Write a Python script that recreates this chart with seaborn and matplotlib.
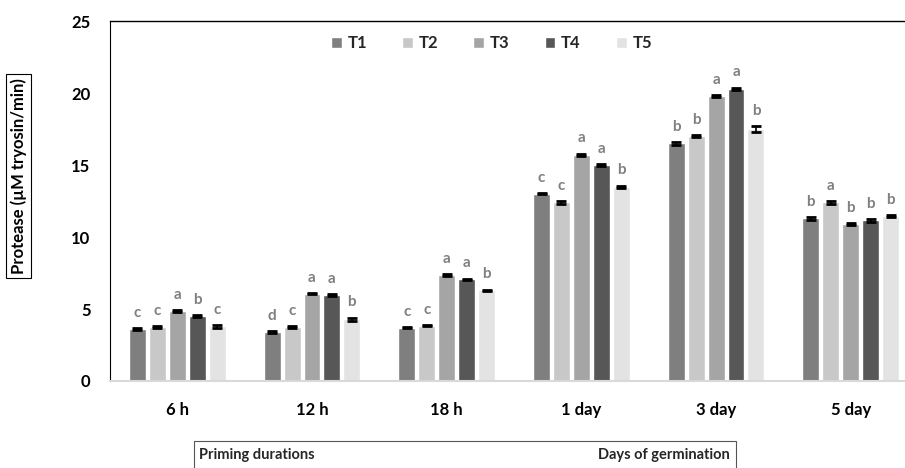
# Protease activity by priming duration / days of germination
import pandas as pd
import matplotlib
matplotlib.use('Agg')
import matplotlib.pyplot as plt
from matplotlib.patches import Rectangle
import seaborn as sns

# Data
periods = ['6 h', '12 h', '18 h', '1 day', '3 day', '5 day']
treatments = ['T1', 'T2', 'T3', 'T4', 'T5']

t1 = [3.6, 3.4, 3.7, 13.0, 16.5, 11.3]
t2 = [3.75, 3.75, 3.85, 12.4, 17.0, 12.4]
t3 = [4.85, 6.05, 7.36, 15.7, 19.8, 10.9]
t4 = [4.5, 5.97, 7.08, 15.0, 20.3, 11.15]
t5 = [3.8, 4.3, 6.3, 13.5, 17.5, 11.45]

t1_err = [0.05, 0.06, 0.04, 0.04, 0.08, 0.10]
t2_err = [0.05, 0.06, 0.05, 0.07, 0.08, 0.08]
t3_err = [0.06, 0.04, 0.04, 0.10, 0.05, 0.08]
t4_err = [0.05, 0.06, 0.04, 0.08, 0.08, 0.08]
t5_err = [0.10, 0.10, 0.05, 0.08, 0.20, 0.08]

t1_sig = ['c', 'd', 'c', 'c', 'b', 'b']
t2_sig = ['c', 'c', 'c', 'c', 'b', 'a']
t3_sig = ['a', 'a', 'a', 'a', 'a', 'b']
t4_sig = ['b', 'a', 'a', 'a', 'a', 'b']
t5_sig = ['c', 'b', 'b', 'b', 'b', 'b']

colors = ['#7f7f7f', '#c8c8c8', '#a5a5a5', '#575757', '#e3e3e3']

values = [t1, t2, t3, t4, t5]
errors = [t1_err, t2_err, t3_err, t4_err, t5_err]
letters = [t1_sig, t2_sig, t3_sig, t4_sig, t5_sig]

# long table for seaborn
rows = []
for name, vals in zip(treatments, values):
    for p, v in zip(periods, vals):
        rows.append({'period': p, 'treatment': name, 'value': v})
df = pd.DataFrame(rows)

sns.set_theme(style='white')
plt.rcParams['font.family'] = ['Lato', 'DejaVu Sans']
plt.rcParams['font.weight'] = 'bold'

fig = plt.figure(figsize=(9.05, 4.68), dpi=100)
ax = fig.add_axes([0.1215, 0.1859, 0.893, 0.769])

sns.barplot(data=df, x='period', y='value', hue='treatment', order=periods,
            hue_order=treatments, palette=colors, width=0.74, gap=0.15,
            errorbar=None, saturation=1, ax=ax)

# error bars and significance letters
for cont, errs, sig in zip(ax.containers, errors, letters):
    xs = [b.get_x() + b.get_width() / 2 for b in cont]
    ys = [b.get_height() for b in cont]
    ax.errorbar(xs, ys, yerr=errs, fmt='none', ecolor='black',
                elinewidth=1.2, capsize=3.5, capthick=2)
    for x, y, e, s in zip(xs, ys, errs, sig):
        ax.annotate(s, (x, y + e), xytext=(0, 6), textcoords='offset points',
                    ha='center', va='bottom', fontsize=11, fontweight='bold',
                    color='#808080')

ax.set_xlim(-0.5, 5.5)
ax.set_ylim(0, 25)
ax.set_yticks([0, 5, 10, 15, 20, 25])
ax.tick_params(axis='both', length=0, labelsize=12)
ax.tick_params(axis='y', pad=14)
ax.tick_params(axis='x', pad=15)
for lab in ax.get_xticklabels() + ax.get_yticklabels():
    lab.set_fontweight('bold')
    lab.set_color('black')

ax.set_xlabel('')
ax.set_ylabel('Protease (µM tryosin/min)', fontsize=12, fontweight='bold',
              color='black',
              bbox=dict(boxstyle='square,pad=0.25', fc='white', ec='black', lw=0.8))
ax.yaxis.set_label_coords(-0.103, 0.57)

ax.spines['right'].set_visible(False)
ax.spines['left'].set_color('black')
ax.spines['left'].set_linewidth(0.8)
ax.spines['top'].set_color('black')
ax.spines['top'].set_linewidth(1.0)
ax.spines['bottom'].set_color('#d9d9d9')
ax.spines['bottom'].set_linewidth(1.5)

handles, labels = ax.get_legend_handles_labels()
ax.legend(handles, labels, loc='center', bbox_to_anchor=(0.543, 0.908),
          bbox_transform=fig.transFigure, ncol=5, frameon=False,
          handlelength=0.65, handleheight=0.65, handletextpad=0.35,
          columnspacing=2.1, prop={'size': 12, 'weight': 'bold'})

# box below the x axis
fig.patches.append(Rectangle((194 / 905, -0.05), (736 - 194) / 905, 0.05 + (468 - 441) / 468,
                             transform=fig.transFigure, fill=False, ec='#555555', lw=0.8))
fig.text(199 / 905, (468 - 455) / 468, 'Priming durations', ha='left', va='center',
         fontsize=10.5, fontweight='bold')
fig.text(730 / 905, (468 - 455) / 468, 'Days of germination', ha='right', va='center',
         fontsize=10.5, fontweight='bold')

fig.savefig('out.png', dpi=100)
